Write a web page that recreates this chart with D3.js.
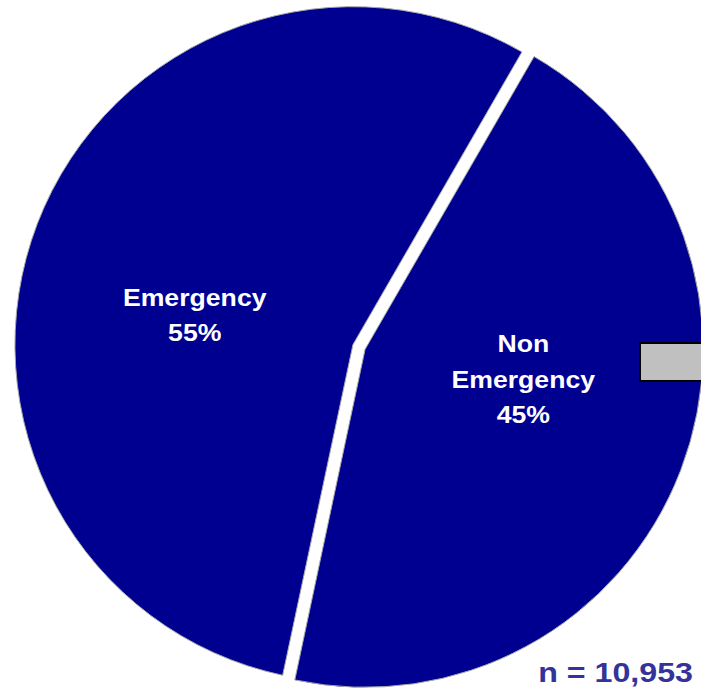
<!DOCTYPE html>
<html>
<head>
<meta charset="utf-8">
<script src="https://cdn.jsdelivr.net/npm/d3@7/dist/d3.min.js"></script>
<style>
  html, body { margin: 0; padding: 0; background: #fff; }
  svg { display: block; }
  text { font-family: "Liberation Sans", Arial, sans-serif; font-weight: bold; }
</style>
</head>
<body>
<svg id="chart" width="701" height="690"></svg>
<script>
// Visit type split
const categories = ["Emergency", "Non Emergency"];
const labelLines = [["Emergency"], ["Non", "Emergency"]];
const values = [55, 45];
const sampleNote = "n = 10,953";

const width = 701, height = 690;
const cx = 359, cy = 347;
const radius = 338;
const explode = 6.5;
const labelRadius = 161;
const labelShift = -0.18; // radians, labels sit slightly before each slice's mid-angle

const svg = d3.select("#chart");

// Emergency begins at ~192° so the slice boundary falls where it does
const pie = d3.pie()
  .sort(null)
  .value(d => d)
  .startAngle(192 * Math.PI / 180)
  .endAngle(192 * Math.PI / 180 + 2 * Math.PI);

const arcs = pie(values);
const arc = d3.arc().innerRadius(0).outerRadius(radius);

const g = svg.append("g").attr("transform", `translate(${cx},${cy})`);

const slices = g.selectAll("g.slice")
  .data(arcs)
  .join("g")
  .attr("class", "slice")
  .attr("transform", d => {
    const mid = (d.startAngle + d.endAngle) / 2;
    return `translate(${explode * Math.sin(mid)},${-explode * Math.cos(mid)})`;
  });

slices.append("path")
  .attr("d", arc)
  .attr("fill", "#000090")
  .attr("stroke", "#a8a8a8")
  .attr("stroke-width", 1)
  .attr("stroke-linejoin", "miter");

// Slice labels: name lines and percentage, glyphs drawn slightly wide
slices.each(function(d, i) {
  const mid = (d.startAngle + d.endAngle) / 2 + labelShift;
  const lx = labelRadius * Math.sin(mid);
  const ly = -labelRadius * Math.cos(mid);
  const lines = labelLines[i].concat([values[i] + "%"]);
  const lineH = 35.5;
  const t = d3.select(this).append("text")
    .attr("transform", `translate(${lx},${ly + 8.5}) scale(1.11,1)`)
    .attr("text-anchor", "middle")
    .attr("fill", "#ffffff")
    .attr("font-size", 24);
  lines.forEach((ln, k) => {
    t.append("tspan")
      .attr("x", 0)
      .attr("y", (k - (lines.length - 1) / 2) * lineH)
      .text(ln);
  });
});

// Legend frame at the right edge
svg.append("rect")
  .attr("x", 640)
  .attr("y", 343)
  .attr("width", 80)
  .attr("height", 38)
  .attr("fill", "#c0c0c0")
  .attr("stroke", "#000000")
  .attr("stroke-width", 2);

// Sample size note
svg.append("text")
  .attr("transform", "translate(693,682) scale(1.15,1)")
  .attr("text-anchor", "end")
  .attr("fill", "#333399")
  .attr("font-size", 28)
  .text(sampleNote);
</script>
</body>
</html>
